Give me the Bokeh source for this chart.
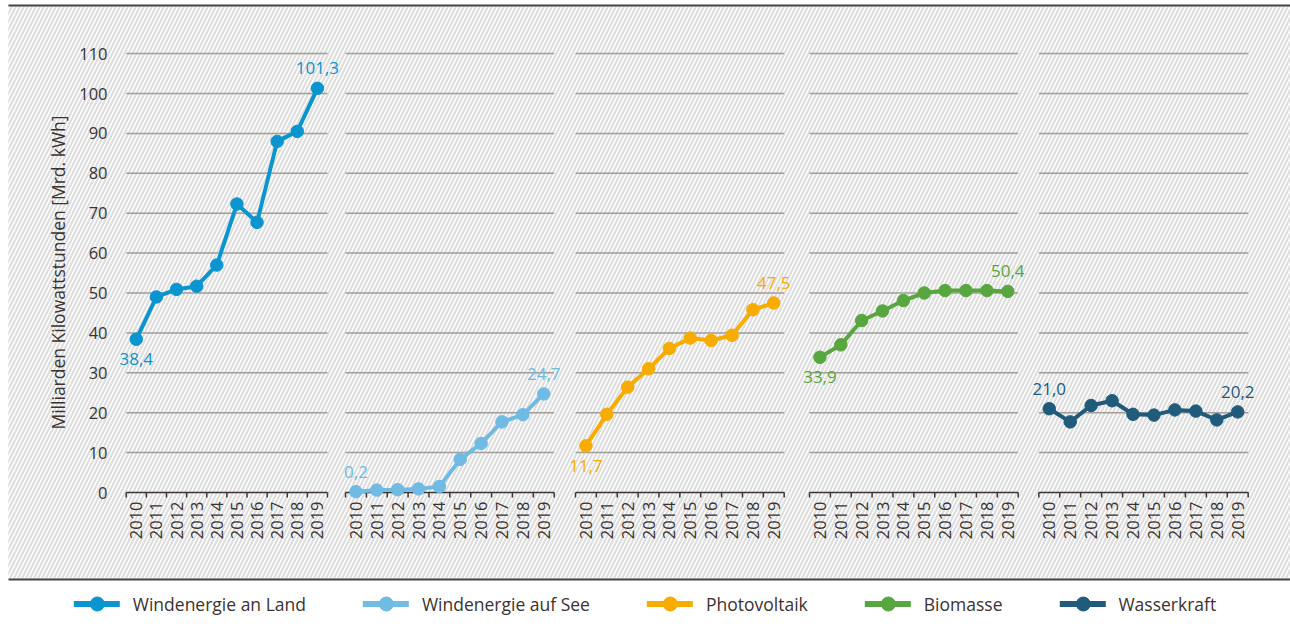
import math
from bokeh.plotting import figure
from bokeh.models import Range1d, BoxAnnotation, Legend, LegendItem, ColumnDataSource
from bokeh.core.properties import value
from bokeh.embed import file_html
from bokeh.resources import INLINE

# ---------------- data ----------------
years = [2010, 2011, 2012, 2013, 2014, 2015, 2016, 2017, 2018, 2019]
series_names = ["Windenergie an Land", "Windenergie auf See", "Photovoltaik", "Biomasse", "Wasserkraft"]
wind_land = [38.4, 49.0, 50.9, 51.7, 57.0, 72.3, 67.7, 88.0, 90.5, 101.3]
wind_sea = [0.2, 0.6, 0.7, 0.9, 1.5, 8.3, 12.3, 17.7, 19.5, 24.7]
photovoltaik = [11.7, 19.6, 26.4, 31.0, 36.1, 38.7, 38.1, 39.4, 45.8, 47.5]
biomasse = [33.9, 37.0, 43.1, 45.5, 48.1, 50.0, 50.6, 50.6, 50.6, 50.4]
wasserkraft = [21.0, 17.7, 21.8, 23.0, 19.6, 19.4, 20.7, 20.4, 18.2, 20.2]
y_ticks = [0, 10, 20, 30, 40, 50, 60, 70, 80, 90, 100, 110]
y_title = "Milliarden Kilowattstunden [Mrd. kWh]"

# ---------------- style / layout ----------------
colors = ["#0b95d0", "#6fbbe4", "#f8ac00", "#58a63f", "#215b7b"]
first_label_side = ["below", "above", "below", "below", "above"]
TEXT = "#3b3330"
FONT = "Open Sans"
W, H = 1290, 629
HATCH_LEFT, HATCH_TOP, HATCH_BOTTOM = 8, 5, 579   # page px
ZERO_PX = 492                                      # page px of value 0
PX = 3.99                                          # px per unit
panel_x0 = [125.7, 345.0, 575.0, 809.0, 1038.3]
panel_w = [201.3, 208.7, 208.7, 208.7, 209.4]

all_series = [wind_land, wind_sea, photovoltaik, biomasse, wasserkraft]

def to_y(page_px):
    return (ZERO_PX - page_px) / PX

p = figure(width=W, height=H,
           x_range=Range1d(0, W),
           y_range=Range1d(to_y(H), to_y(0)),
           x_axis_type=None, y_axis_type=None,
           toolbar_location=None, output_backend="svg", min_border=0)
p.outline_line_color = None
p.background_fill_color = "white"
p.border_fill_color = "white"

# hatched background with dark top / bottom rules
p.add_layout(BoxAnnotation(left=HATCH_LEFT, top=to_y(HATCH_TOP), bottom=to_y(HATCH_BOTTOM),
                           fill_color="white", fill_alpha=1.0,
                           hatch_pattern="/", hatch_color="#dedede", hatch_scale=8,
                           hatch_weight=2.2, line_color=None, level="underlay"))
p.segment(x0=[HATCH_LEFT] * 2, x1=[W] * 2, y0=[to_y(HATCH_TOP), to_y(HATCH_BOTTOM)],
          y1=[to_y(HATCH_TOP), to_y(HATCH_BOTTOM)], line_color="#4a423e", line_width=2)

tick_len = 5 / PX

for k, vals in enumerate(all_series):
    x0, w = panel_x0[k], panel_w[k]
    slot = w / len(years)
    xs = [x0 + (i + 0.5) * slot for i in range(len(years))]
    # gridlines
    gy = [t for t in y_ticks if t > 0]
    p.segment(x0=[x0] * len(gy), x1=[x0 + w] * len(gy), y0=gy, y1=gy,
              line_color="#a19e9c", line_width=1.5)
    # axis line and ticks
    p.segment(x0=[x0], x1=[x0 + w], y0=[0], y1=[0], line_color="#3d3632", line_width=1.5)
    bx = [x0 + i * slot for i in range(len(years) + 1)]
    p.segment(x0=bx, x1=bx, y0=[0] * len(bx), y1=[-tick_len] * len(bx),
              line_color="#3d3632", line_width=1.5)
    # year labels
    p.text(x=xs, y=[-9 / PX] * len(xs), text=[str(y) for y in years], angle=math.pi / 2,
           text_align="right", text_baseline="middle", text_color=TEXT,
           text_font=value(FONT), text_font_size="16.5px")
    # series
    src = ColumnDataSource(dict(x=xs, y=vals))
    p.line("x", "y", source=src, line_color=colors[k], line_width=4)
    p.scatter("x", "y", source=src, size=12.5, fill_color=colors[k], line_color=colors[k])
    # value labels (first and last)
    fy = vals[0] + (20 if first_label_side[k] == "above" else -20) / PX
    ly = vals[-1] + 20 / PX
    p.text(x=[xs[0], xs[-1]], y=[fy, ly],
           text=[f"{vals[0]:.1f}".replace(".", ","), f"{vals[-1]:.1f}".replace(".", ",")],
           text_align="center", text_baseline="middle", text_color=colors[k],
           text_font=value(FONT), text_font_size="17px")

# y tick labels and title (first panel)
p.text(x=[107] * len(y_ticks), y=y_ticks, text=[str(t) for t in y_ticks],
       text_align="right", text_baseline="middle", text_color=TEXT,
       text_font=value(FONT), text_font_size="16.5px")
p.text(x=[57], y=[to_y(272)], text=[y_title], angle=math.pi / 2,
       text_align="center", text_baseline="middle", text_color=TEXT,
       text_font=value(FONT), text_font_size="17.5px")

# legend (hidden proxy renderers with thicker styling, drawn from the same data)
items = []
for k, name in enumerate(series_names):
    x0, w = panel_x0[k], panel_w[k]
    xs = [x0 + (i + 0.5) * w / len(years) for i in range(len(years))]
    lr = p.line(x=xs, y=all_series[k], line_color=colors[k], line_width=6,
                line_cap="round", visible=False)
    sr = p.scatter(x=xs, y=all_series[k], fill_color=colors[k], line_color=colors[k],
                   visible=False)
    items.append(LegendItem(label=name, renderers=[lr, sr]))
legend = Legend(items=items, orientation="horizontal", location="bottom_center",
                glyph_width=46, glyph_height=35, label_standoff=13, spacing=57,
                padding=0, margin=8, border_line_color=None, background_fill_alpha=0,
                inactive_fill_alpha=0, click_policy="none",
                label_text_font=FONT, label_text_font_size="17.5px", label_text_color=TEXT)
p.add_layout(legend)

open("out.html", "w").write(file_html(p, INLINE))
